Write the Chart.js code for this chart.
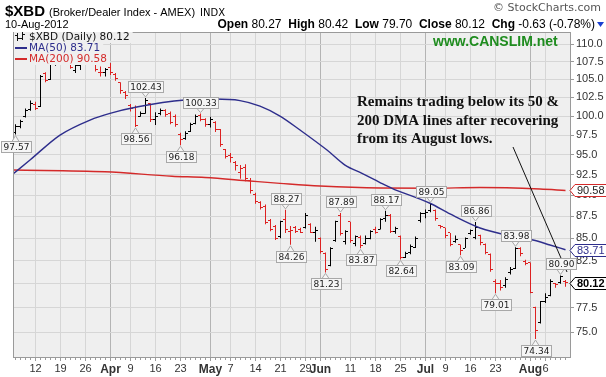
<!DOCTYPE html>
<html>
<head>
<meta charset="utf-8">
<script src="https://cdn.jsdelivr.net/npm/chart.js@4.4.1/dist/chart.umd.min.js"></script>
<style>
  html, body { margin: 0; padding: 0; background: #fff; }
  #wrap { width: 606px; height: 377px; }
</style>
</head>
<body>
<div id="wrap"><canvas id="chart" width="606" height="377"></canvas></div>
<script>
// daily bars, 6-Mar-2012 .. 10-Aug-2012
const opens = [
  97.8, 98.6, 99.9, 100.9, 101.6, 101.3, 105.8, 105.0, 107.2, 108.0,
  108.7, 108.4, 106.2, 107.0, 107.6, 108.5, 107.5, 106.0, 105.9, 106.6,
  105.7, 104.5, 103.2, 101.4, 101.2, 100.0, 100.4, 101.7, 99.6, 100.3,
  100.7, 100.4, 99.9, 97.6, 97.0, 98.0, 99.0, 100.1, 99.5, 98.9,
  99.2, 98.2, 95.6, 94.9, 94.0, 92.8, 93.4, 91.8, 90.1, 89.1,
  88.7, 87.0, 86.3, 85.2, 87.2, 85.8, 86.2, 86.0, 86.2, 86.6,
  85.6, 85.0, 83.3, 82.0, 84.7, 87.6, 84.6, 86.9, 84.4, 85.1,
  84.4, 85.0, 86.0, 86.0, 87.3, 87.6, 85.8, 85.2, 82.9, 83.4,
  84.0, 87.0, 87.9, 88.2, 88.2, 86.4, 86.2, 85.6, 84.6, 84.3,
  83.9, 85.5, 85.1, 85.3, 84.3, 83.2, 80.3, 80.0, 79.8, 81.2,
  81.6, 83.9, 82.4, 82.3, 77.5, 76.0, 78.1, 78.8, 80.0, 80.1,
  80.27
];
const highs = [
  98.9, 99.5, 101.0, 102.1, 101.9, 105.6, 106.0, 107.3, 108.2, 109.6,
  109.2, 108.6, 107.3, 107.6, 108.8, 108.7, 108.1, 106.8, 106.6, 107.3,
  105.9, 104.6, 103.4, 101.6, 101.4, 100.6, 102.43, 101.7, 100.5, 101.0,
  100.9, 100.6, 100.2, 97.8, 98.0, 99.1, 100.2, 100.33, 99.7, 99.9,
  99.3, 98.3, 95.7, 95.2, 94.2, 93.7, 93.8, 92.1, 90.3, 89.3,
  88.9, 87.2, 86.5, 87.0, 88.27, 86.4, 86.4, 86.2, 87.9, 86.7,
  86.3, 85.1, 83.4, 84.0, 87.0, 87.89, 85.9, 86.9, 85.3, 85.3,
  85.3, 85.9, 86.3, 87.3, 88.17, 87.8, 86.3, 85.3, 83.5, 84.3,
  85.2, 88.0, 88.3, 89.05, 88.3, 86.5, 86.2, 85.6, 85.3, 84.3,
  85.1, 86.0, 86.86, 85.4, 84.4, 83.3, 80.5, 80.4, 80.7, 81.8,
  83.98, 84.0, 82.6, 82.3, 77.6, 78.2, 79.0, 80.5, 80.1, 80.90,
  80.42
];
const lows = [
  97.57, 98.4, 99.8, 100.7, 100.8, 101.2, 104.6, 104.9, 106.9, 107.7,
  107.8, 106.5, 105.9, 106.3, 107.3, 107.4, 106.1, 105.4, 105.4, 105.6,
  104.8, 103.0, 102.3, 100.6, 98.56, 99.9, 100.3, 99.2, 98.8, 100.1,
  99.9, 98.9, 98.6, 96.18, 96.9, 97.9, 98.9, 99.3, 98.6, 98.5,
  97.9, 96.0, 94.5, 94.0, 93.0, 92.0, 91.7, 90.2, 89.0, 88.3,
  86.6, 85.8, 84.8, 85.0, 85.6, 84.26, 85.6, 85.6, 86.1, 85.6,
  84.6, 83.3, 81.23, 81.9, 84.6, 85.3, 84.3, 84.5, 84.1, 83.87,
  84.3, 84.9, 85.5, 86.0, 86.9, 85.6, 85.5, 82.64, 82.8, 83.2,
  83.9, 86.8, 87.3, 88.0, 87.0, 86.1, 85.0, 84.1, 84.5, 83.09,
  83.9, 85.4, 84.9, 84.2, 83.2, 81.3, 79.01, 79.3, 79.6, 81.0,
  81.6, 83.0, 82.0, 79.0, 74.34, 75.9, 78.0, 78.7, 79.6, 80.0,
  79.70
];
const closes = [
  98.6, 99.3, 100.8, 101.7, 101.0, 105.4, 104.9, 107.1, 107.9, 109.3,
  108.5, 106.7, 107.0, 107.4, 108.6, 107.6, 106.4, 106.0, 106.4, 106.0,
  105.1, 103.4, 102.8, 101.0, 98.8, 100.3, 102.1, 99.5, 100.0, 100.8,
  100.2, 99.2, 98.9, 96.9, 97.7, 98.9, 100.0, 99.6, 98.9, 99.5,
  98.2, 96.3, 94.8, 94.6, 93.6, 93.3, 92.0, 90.6, 89.3, 88.6,
  86.8, 86.0, 85.0, 86.9, 86.0, 85.9, 85.8, 85.7, 87.6, 85.7,
  85.9, 83.5, 81.5, 83.9, 86.9, 85.5, 85.8, 84.7, 85.2, 84.2,
  85.0, 85.8, 85.7, 87.1, 87.6, 85.8, 86.1, 82.9, 83.3, 84.1,
  85.0, 87.8, 88.0, 88.9, 87.3, 86.3, 85.3, 84.3, 84.9, 83.6,
  85.0, 85.9, 86.2, 84.5, 83.4, 81.5, 80.0, 79.6, 80.5, 81.5,
  83.8, 83.3, 82.2, 79.1, 75.2, 78.1, 78.6, 80.2, 79.9, 80.75,
  80.12
];

// moving averages (bar index, value)
const ma50X = [-0.5, 2.9, 8.9, 14.9, 18.9, 24.5, 33.9, 39.9, 44.9, 48.9, 52.9, 56.9,
               62.3, 65.9, 69.3, 72.9, 75.3, 82.9, 86.9, 92.9, 99.9, 103.5, 106.9, 110];
const ma50Y = [92.58, 94.32, 97.5, 99.47, 100.36, 101.24, 102.15, 102.28, 102.07, 101.33, 100.0, 98.16,
               95.58, 93.69, 92.66, 91.54, 90.84, 89.05, 87.79, 86.17, 85.17, 84.80, 84.24, 83.71];
const ma200X = [-0.5, 17.9, 31.3, 37.9, 46.9, 52.9, 60.9, 72.9, 82.9, 92.9, 104.9, 110];
const ma200Y = [93.07, 92.86, 92.31, 92.15, 91.72, 91.44, 91.11, 90.87, 90.85, 90.93, 90.75, 90.58];

// x axis ticks (bar index) and labels
const tickIdx  = [4, 9, 14, 19, 23, 28, 33, 39, 43, 48, 53, 58, 61, 67, 72, 77, 82, 86, 91, 96, 103, 106];
const tickText = ['12', '19', '26', 'Apr', '9', '16', '23', 'May', '7', '14', '21', '29', 'Jun', '11', '18', '25', 'Jul', '9', '16', '23', 'Aug', '6'];
const monthIdx = [19, 39, 61, 82, 103];
const yTicks = [75, 77.5, 80, 82.5, 85, 87.5, 90, 92.5, 95, 97.5, 100, 102.5, 105, 107.5, 110];

// labelled swing highs / lows (bar index)
const peakIdx = [26, 37, 54, 65, 74, 83, 92, 100, 109];
const troughIdx = [0, 24, 33, 55, 62, 69, 77, 89, 96, 104];

const RED = '#dd2222';
const NAVY = '#2e2e8c';
const MA_RED = '#d42a2a';
const PLOT_BG = '#efefef';
const last = closes.length - 1;

const barColors = closes.map((c, i) => {
  const ref = i === 0 ? opens[0] : closes[i - 1];
  return c >= ref ? '#000000' : RED;
});

function tag(ctx, x, yp, text, above) {
  ctx.font = '9px "DejaVu Sans"';
  const w = Math.round(ctx.measureText(text).width) + 4, h = 11;
  const bx = Math.round(x - w / 2) + 0.5;
  const by = above ? Math.round(yp) - 6 - h + 0.5 : Math.round(yp) + 6 + 0.5;
  ctx.fillStyle = '#f6f6f6';
  ctx.strokeStyle = '#a8a8a8';
  ctx.lineWidth = 1;
  ctx.beginPath();
  if (above) {
    ctx.moveTo(x - 3.5, by + h); ctx.lineTo(x, yp - 1); ctx.lineTo(x + 3.5, by + h);
  } else {
    ctx.moveTo(x - 3.5, by); ctx.lineTo(x, yp + 1); ctx.lineTo(x + 3.5, by);
  }
  ctx.fill(); ctx.stroke();
  ctx.fillRect(bx, by, w, h);
  ctx.strokeRect(bx, by, w, h);
  ctx.fillStyle = '#222';
  ctx.textAlign = 'center';
  ctx.textBaseline = 'middle';
  ctx.fillText(text, bx + w / 2, by + h / 2 + 0.5);
}

function axisTag(ctx, x, y, text, border, color, bold) {
  ctx.font = (bold ? 'bold ' : '') + '11px "Liberation Sans"';
  const w = Math.round(ctx.measureText(text).width) + 5, h = 12;
  const yy = Math.round(y) + 0.5;
  ctx.beginPath();
  ctx.moveTo(x, yy);
  ctx.lineTo(x + 5, yy - h / 2);
  ctx.lineTo(x + 5 + w, yy - h / 2);
  ctx.lineTo(x + 5 + w, yy + h / 2);
  ctx.lineTo(x + 5, yy + h / 2);
  ctx.closePath();
  ctx.fillStyle = '#fff';
  ctx.fill();
  ctx.strokeStyle = border;
  ctx.lineWidth = 1;
  ctx.stroke();
  ctx.fillStyle = color;
  ctx.textAlign = 'left';
  ctx.textBaseline = 'middle';
  ctx.fillText(text, x + 7, yy + 0.5);
}

const extras = {
  id: 'extras',
  beforeDraw(chart) {
    const { ctx, chartArea: a } = chart;
    ctx.save();
    ctx.fillStyle = '#fff';
    ctx.fillRect(0, 0, chart.width, chart.height);
    ctx.fillStyle = PLOT_BG;
    ctx.fillRect(a.left, a.top, a.right - a.left, a.bottom - a.top);
    ctx.restore();
  },
  afterDatasetDraw(chart, args) {
    if (args.index !== 2) return;
    const ctx = chart.ctx, xs = chart.scales.x, ys = chart.scales.y;
    ctx.save();
    for (let i = 0; i < closes.length; i++) {
      const x = Math.round(xs.getPixelForValue(i) - 0.5);
      ctx.fillStyle = barColors[i];
      ctx.fillRect(x - 2, Math.floor(ys.getPixelForValue(opens[i])), 2, 1);
      ctx.fillRect(x + 1, Math.floor(ys.getPixelForValue(closes[i])), 2, 1);
    }
    ctx.restore();
  },
  afterDraw(chart) {
    const { ctx, chartArea: a } = chart;
    const xs = chart.scales.x, ys = chart.scales.y;
    ctx.save();

    // frame
    ctx.strokeStyle = '#9a9a9a';
    ctx.lineWidth = 1;
    ctx.strokeRect(a.left + 0.5, a.top + 0.5, a.right - a.left - 1, a.bottom - a.top - 1);
    // daily minor ticks
    ctx.fillStyle = '#9a9a9a';
    for (let i = 0; i < closes.length; i++) {
      ctx.fillRect(Math.round(xs.getPixelForValue(i) - 0.5), a.bottom, 1, 2);
    }

    // legend
    ctx.font = '10.5px "DejaVu Sans"';
    ctx.textAlign = 'left';
    ctx.textBaseline = 'middle';
    const leg = [
      { t: '$XBD (Daily) ' + closes[last].toFixed(2), c: '#111', y: 37 },
      { t: 'MA(50) ' + ma50Y[ma50Y.length - 1].toFixed(2), c: NAVY, y: 48 },
      { t: 'MA(200) ' + ma200Y[ma200Y.length - 1].toFixed(2), c: MA_RED, y: 59 }
    ];
    leg.forEach((l, k) => {
      const w = ctx.measureText(l.t).width;
      ctx.fillStyle = PLOT_BG;
      ctx.fillRect(a.left + 1, l.y - 5, 16 + w + 2, 11);
      if (k === 0) {
        ctx.fillStyle = '#111';
        ctx.fillRect(17, l.y - 4, 1, 8); ctx.fillRect(15, l.y - 2, 2, 1); ctx.fillRect(18, l.y + 1, 2, 1);
        ctx.fillRect(22, l.y - 5, 1, 8); ctx.fillRect(20, l.y + 1, 2, 1); ctx.fillRect(23, l.y - 3, 2, 1);
      } else {
        ctx.fillStyle = l.c;
        ctx.fillRect(15, l.y - 1, 12, 2);
      }
      ctx.fillStyle = l.c;
      ctx.fillText(l.t, 29, l.y + 0.5);
    });

    // site text
    ctx.font = 'bold 14px "Liberation Sans"';
    ctx.fillStyle = '#1f8c1f';
    ctx.textAlign = 'left';
    ctx.fillText('www.CANSLIM.net', 433, 42);

    // comment
    ctx.font = 'bold 15px "Liberation Serif"';
    ctx.fillStyle = '#111';
    ctx.fillText('Remains trading below its 50 &', 357, 102);
    ctx.fillText('200 DMA lines after recovering', 357, 121);
    ctx.fillText('from its August lows.', 357, 139);
    ctx.strokeStyle = '#111';
    ctx.lineWidth = 1;
    ctx.beginPath();
    ctx.moveTo(513, 147);
    ctx.lineTo(567, 272);
    ctx.stroke();

    // swing labels
    peakIdx.forEach(i => tag(ctx, xs.getPixelForValue(i), ys.getPixelForValue(highs[i]), highs[i].toFixed(2), true));
    troughIdx.forEach(i => tag(ctx, xs.getPixelForValue(i), ys.getPixelForValue(lows[i]), lows[i].toFixed(2), false));

    // right axis value tags
    axisTag(ctx, a.right - 1, ys.getPixelForValue(ma200Y[ma200Y.length - 1]), ma200Y[ma200Y.length - 1].toFixed(2), MA_RED, '#222', false);
    axisTag(ctx, a.right - 1, ys.getPixelForValue(ma50Y[ma50Y.length - 1]), ma50Y[ma50Y.length - 1].toFixed(2), NAVY, NAVY, false);
    axisTag(ctx, a.right - 1, ys.getPixelForValue(closes[last]), closes[last].toFixed(2), '#000', '#000', true);

    // header
    ctx.textBaseline = 'alphabetic';
    ctx.textAlign = 'left';
    ctx.fillStyle = '#000';
    ctx.font = 'bold 15px "Liberation Sans"';
    ctx.fillText('$XBD', 5, 16);
    let x = 5 + ctx.measureText('$XBD').width + 4;
    ctx.font = '11px "Liberation Sans"';
    ctx.fillText('(Broker/Dealer Index - AMEX)', x, 16);
    x += ctx.measureText('(Broker/Dealer Index - AMEX)').width + 5;
    ctx.font = '10px "DejaVu Sans"';
    ctx.fillText('INDX', x, 16);

    ctx.fillStyle = '#555';
    ctx.textAlign = 'right';
    ctx.font = '11px "DejaVu Sans"';
    ctx.fillText('\u00A9 StockCharts.com', 601, 11);

    ctx.textAlign = 'left';
    ctx.fillStyle = '#000';
    ctx.font = '11px "Liberation Sans"';
    ctx.fillText('10-Aug-2012', 5, 28);

    const seg = [['Open', 1], [' 80.27  ', 0], ['High', 1], [' 80.42  ', 0], ['Low', 1], [' 79.70  ', 0],
                 ['Close', 1], [' 80.12  ', 0], ['Chg', 1], [' -0.63 (-0.78%)', 0]];
    const fB = 'bold 12px "Liberation Sans"', fN = '12px "Liberation Sans"';
    let total = 0;
    seg.forEach(s => { ctx.font = s[1] ? fB : fN; total += ctx.measureText(s[0]).width; });
    x = 595 - total;
    seg.forEach(s => { ctx.font = s[1] ? fB : fN; ctx.fillText(s[0], x, 28); x += ctx.measureText(s[0]).width; });
    ctx.fillStyle = '#1a3fd0';
    ctx.beginPath();
    ctx.moveTo(597, 22); ctx.lineTo(604, 22); ctx.lineTo(600.5, 27); ctx.closePath();
    ctx.fill();

    ctx.restore();
  }
};

new Chart(document.getElementById('chart'), {
  type: 'line',
  data: {
    datasets: [
      {
        label: 'MA(50)',
        data: ma50X.map((v, i) => ({ x: v, y: ma50Y[i] })),
        borderColor: NAVY,
        borderWidth: 1.4,
        pointRadius: 0,
        cubicInterpolationMode: 'monotone'
      },
      {
        label: 'MA(200)',
        data: ma200X.map((v, i) => ({ x: v, y: ma200Y[i] })),
        borderColor: MA_RED,
        borderWidth: 1.4,
        pointRadius: 0,
        cubicInterpolationMode: 'monotone'
      },
      {
        type: 'bar',
        label: '$XBD',
        data: highs.map((h, i) => ({ x: i, y: [lows[i], h] })),
        backgroundColor: barColors,
        borderWidth: 0,
        barThickness: 1,
        inflateAmount: 0
      }
    ]
  },
  options: {
    responsive: false,
    animation: false,
    devicePixelRatio: 1,
    layout: { padding: { left: 13, top: 32, right: 0, bottom: 0 } },
    plugins: { legend: { display: false }, tooltip: { enabled: false } },
    scales: {
      x: {
        type: 'linear',
        offset: false,
        min: -0.5,
        max: 111.1,
        afterBuildTicks: s => { s.ticks = tickIdx.map(v => ({ value: v })); },
        afterFit: s => { s.height = 19; },
        border: { display: false },
        grid: {
          offset: false,
          color: c => (c.tick && monthIdx.includes(c.tick.value)) ? '#b4b4b4' : '#d6d6d6',
          tickColor: '#9a9a9a',
          tickLength: 3
        },
        ticks: {
          autoSkip: false,
          maxRotation: 0,
          minRotation: 0,
          padding: 1,
          color: '#333',
          callback: v => tickText[tickIdx.indexOf(v)],
          font: c => (c.tick && monthIdx.includes(c.tick.value))
            ? { family: 'Liberation Sans', size: 12, weight: 'bold' }
            : { family: 'Liberation Sans', size: 11 }
        }
      },
      y: {
        type: 'logarithmic',
        position: 'right',
        min: 72.49,
        max: 111.82,
        afterBuildTicks: s => { s.ticks = yTicks.map(v => ({ value: v })); },
        afterFit: s => { s.width = 35; },
        border: { display: false },
        grid: { color: '#d6d6d6', tickColor: '#9a9a9a', tickLength: 3 },
        ticks: {
          autoSkip: false,
          padding: 2,
          color: '#333',
          font: { family: 'Liberation Sans', size: 11 },
          callback: v => Number(v).toFixed(1)
        }
      }
    }
  },
  plugins: [extras]
});
</script>
</body>
</html>
